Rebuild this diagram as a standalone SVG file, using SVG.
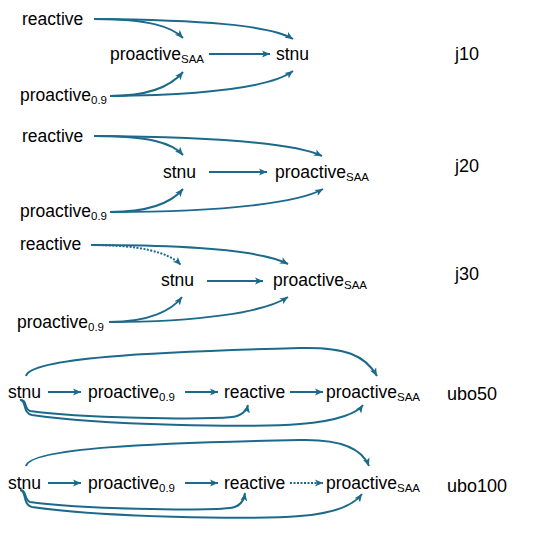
<svg xmlns="http://www.w3.org/2000/svg" width="543" height="535" viewBox="0 0 543 535">
<style>
text{font-family:"Liberation Sans",Arial,sans-serif;font-size:17.5px;fill:#000}
.sub{font-size:11.5px}
.lbl{font-size:18px}
.e{fill:none;stroke:#1c6a8b;stroke-width:2;marker-end:url(#ah)}
.d{stroke-dasharray:2 1.5}
</style>
<defs>
<marker id="ah" markerUnits="userSpaceOnUse" markerWidth="10" markerHeight="10" refX="8" refY="4" orient="auto">
<path d="M0,0.5 L8,4 L0,7.5 L2,4 z" fill="#1c6a8b"/>
</marker>
</defs>
<rect width="543" height="535" fill="#fff"/>
<g id="connectors">
<path class="e" d="M94,19 C150,19 172,27 183,38"/>
<path class="e" d="M94,19 C200,20 270,25 293,39"/>
<path class="e" d="M209,54 L270,54"/>
<path class="e" d="M110,96 C150,96 172,85 183,72"/>
<path class="e" d="M110,96 C200,95 270,88 293,71"/>
<path class="e" d="M94,136 C150,136 172,143 183,155"/>
<path class="e" d="M94,136 C220,137 295,143 322,156"/>
<path class="e" d="M209,172 L267,172"/>
<path class="e" d="M110,212 C150,212 172,202 183,189"/>
<path class="e" d="M110,212 C230,212 300,202 323,189"/>
<path class="e d" d="M91,245 C140,245 168,252 181,265"/>
<path class="e" d="M91,245 C200,245 265,252 288,264"/>
<path class="e" d="M207,281 L263,281"/>
<path class="e" d="M109,322 C150,322 172,310 182,297"/>
<path class="e" d="M109,322 C200,322 265,312 288,297"/>
<path class="e" d="M48,392 L81,392"/>
<path class="e" d="M185,392 L218,392"/>
<path class="e" d="M290,392 L323,392"/>
<path class="e" d="M26,376 C30,358 150,352 300,348 C345,347 365,355 377,376"/>
<path class="e" d="M20,400 C27,399 24,409 30,411 C80,418 200,420 232,417 C242,416 247,410 248,405"/>
<path class="e" d="M20,400 C27,400 22,413 32,415 C100,425 250,428 300,424 C340,421 358,412 363,405"/>
<path class="e" d="M48,483 L81,483"/>
<path class="e" d="M185,483 L218,483"/>
<path class="e d" d="M290,483 L323,483"/>
<path class="e" d="M26,466 C30,448 150,443 300,440 C340,439 362,448 369,466"/>
<path class="e" d="M20,490 C27,490 24,500 30,502 C80,509 200,511 230,508 C240,507 244,500 245,493"/>
<path class="e" d="M20,490 C27,490 22,505 32,507 C100,517 250,520 300,516 C340,513 356,502 362,494"/>
</g>
<g id="j10-reactive"><text x="22" y="25">reactive</text></g>
<g id="j10-proactiveSAA"><text x="110" y="60">proactive<tspan class="sub" dy="3">SAA</tspan></text></g>
<g id="j10-stnu"><text x="276" y="60">stnu</text></g>
<g id="j10-proactive09"><text x="20" y="101">proactive<tspan class="sub" dy="3">0.9</tspan></text></g>
<g id="j10-label"><text class="lbl" x="455" y="60">j10</text></g>
<g id="j20-reactive"><text x="22" y="142">reactive</text></g>
<g id="j20-stnu"><text x="163" y="178">stnu</text></g>
<g id="j20-proactiveSAA"><text x="275" y="178">proactive<tspan class="sub" dy="3">SAA</tspan></text></g>
<g id="j20-proactive09"><text x="20" y="217">proactive<tspan class="sub" dy="3">0.9</tspan></text></g>
<g id="j20-label"><text class="lbl" x="455" y="172">j20</text></g>
<g id="j30-reactive"><text x="20" y="250">reactive</text></g>
<g id="j30-stnu"><text x="161" y="286">stnu</text></g>
<g id="j30-proactiveSAA"><text x="273" y="286">proactive<tspan class="sub" dy="3">SAA</tspan></text></g>
<g id="j30-proactive09"><text x="17" y="328">proactive<tspan class="sub" dy="3">0.9</tspan></text></g>
<g id="j30-label"><text class="lbl" x="455" y="280">j30</text></g>
<g id="ubo50-stnu"><text x="8" y="398">stnu</text></g>
<g id="ubo50-proactive09"><text x="88" y="398">proactive<tspan class="sub" dy="3">0.9</tspan></text></g>
<g id="ubo50-reactive"><text x="224" y="398">reactive</text></g>
<g id="ubo50-proactiveSAA"><text x="326" y="398">proactive<tspan class="sub" dy="3">SAA</tspan></text></g>
<g id="ubo50-label"><text class="lbl" x="447" y="400">ubo50</text></g>
<g id="ubo100-stnu"><text x="8" y="489">stnu</text></g>
<g id="ubo100-proactive09"><text x="88" y="489">proactive<tspan class="sub" dy="3">0.9</tspan></text></g>
<g id="ubo100-reactive"><text x="224" y="489">reactive</text></g>
<g id="ubo100-proactiveSAA"><text x="326" y="489">proactive<tspan class="sub" dy="3">SAA</tspan></text></g>
<g id="ubo100-label"><text class="lbl" x="447" y="492">ubo100</text></g>
</svg>
